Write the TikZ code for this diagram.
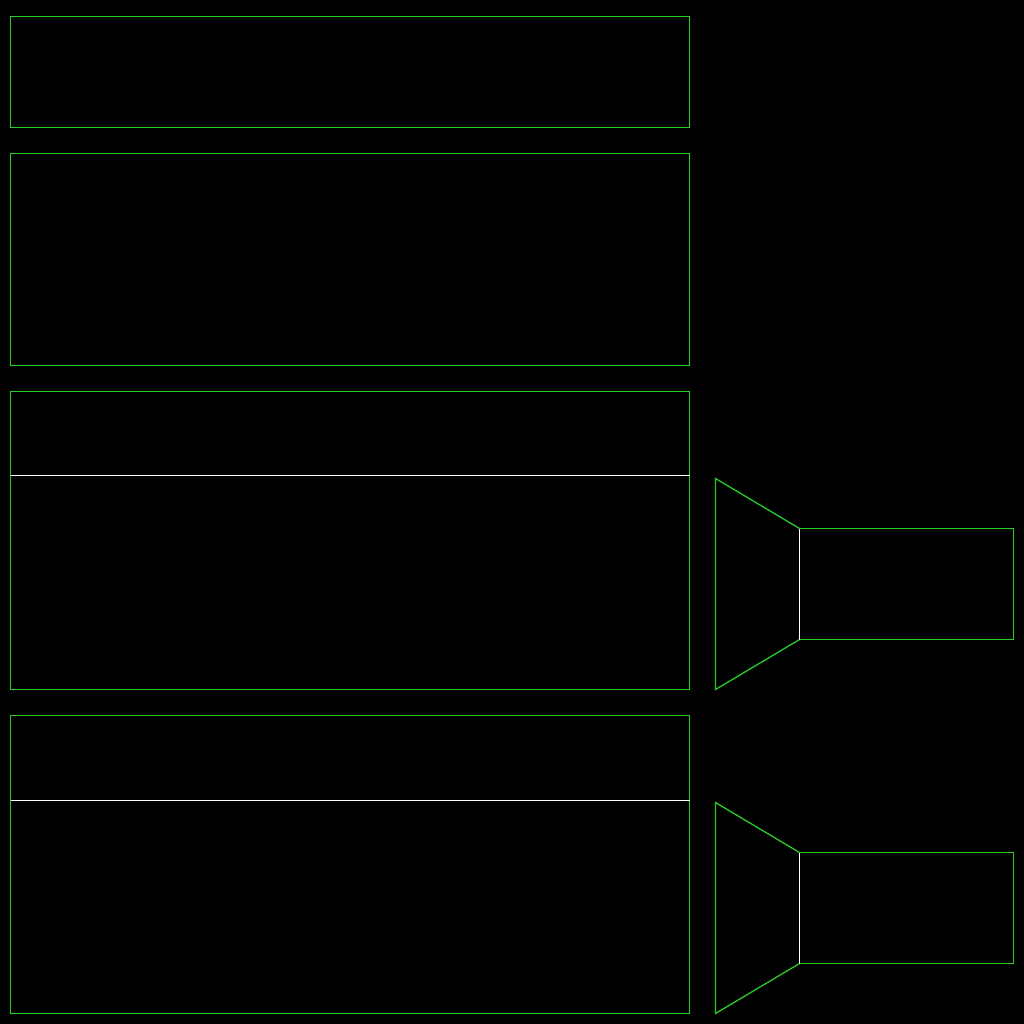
\documentclass[tikz,border=0pt]{standalone}
\definecolor{scrgreen}{RGB}{40,205,40}
\begin{document}
\begin{tikzpicture}[x=1bp, y=-1bp, line width=1.3bp]
	\tikzstyle{edge} = [draw=scrgreen]
	\tikzstyle{seam} = [draw=white]
	\fill[black] (0,0) rectangle (1024,1024);
	\useasboundingbox (0,0) rectangle (1024,1024);
	\begin{scope}[shift={(0.5,0.5)}]
	% panels on the left
	\draw[edge] (10,16) rectangle (689,127);
	\draw[edge] (10,153) rectangle (689,365);
	\foreach \top/\cut in {391/475, 715/800}{
		\draw[edge] (10,\top) rectangle (689,\top+298);
		\draw[seam] (10,\cut) -- (689,\cut);
	}
	% funnels with their boxes on the right
	\foreach \top in {478, 802}{
		\coordinate (fa) at (715,\top);
		\coordinate (fb) at (799,\top+50);
		\coordinate (fc) at (799,\top+161);
		\coordinate (fd) at (715,\top+211);
		\draw[edge] (fb) -- (fa) -- (fd) -- (fc);
		\draw[edge] (fb) -- (1013,\top+50) -- (1013,\top+161) -- (fc);
		\draw[seam] (fb) -- (fc);
	}
	\end{scope}
\end{tikzpicture}
\end{document}
